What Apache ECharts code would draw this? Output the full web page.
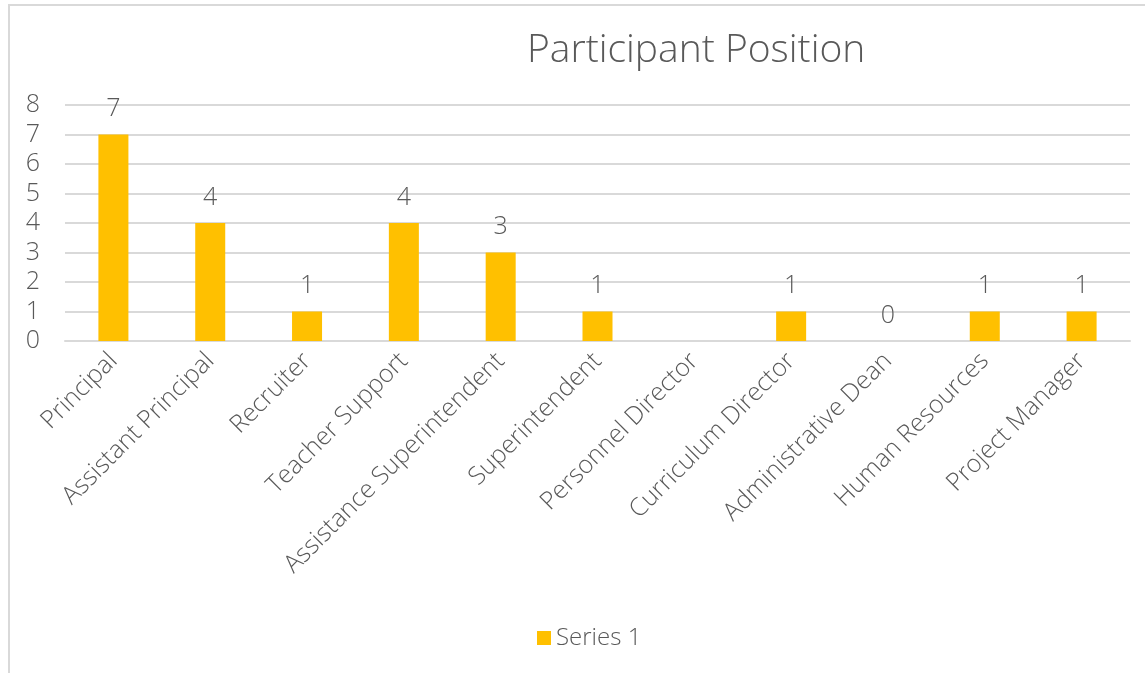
<!DOCTYPE html>
<html>
<head>
<meta charset="utf-8">
<script src="https://cdn.jsdelivr.net/npm/echarts@6/dist/echarts.min.js"></script>
<style>
html,body{margin:0;padding:0;background:#fff;}
#frame{position:absolute;left:8px;top:4px;width:1200px;height:700px;border-left:2px solid #d9d9d9;border-top:2px solid #d9d9d9;}
#chart{position:absolute;left:0;top:0;width:1145px;height:673px;}
</style>
</head>
<body>
<div id="frame"></div>
<div id="chart"></div>
<script>
const categories = ["Principal","Assistant Principal","Recruiter","Teacher Support","Assistance Superintendent","Superintendent","Personnel Director","Curriculum Director","Administrative Dean","Human Resources","Project Manager"];
const series1 = [7,4,1,4,3,1,null,1,0,1,1];
const seriesName = "Series 1";
const titleText = "Participant Position";

const FONT = "'Open Sans', 'Lato', sans-serif";
const TXT = '#595959';
const chart = echarts.init(document.getElementById('chart'), null, {renderer:'canvas'});
chart.setOption({
  backgroundColor: 'transparent',
  animation: false,
  title: {
    text: titleText,
    left: 527,
    top: 31,
    padding: 0,
    textStyle: {fontFamily: FONT, fontWeight: 300, fontSize: 39, color: TXT}
  },
  grid: {left: 65, right: 15, top: 105, bottom: 332, containLabel: false},
  legend: {
    bottom: 23,
    left: 537,
    padding: 0,
    itemWidth: 14,
    itemHeight: 14,
    icon: 'rect',
    itemGap: 6,
    textStyle: {fontFamily: FONT, fontWeight: 300, fontSize: 24, color: TXT},
    data: [seriesName]
  },
  xAxis: {
    type: 'category',
    data: categories,
    axisLine: {show: true, lineStyle: {color: '#d9d9d9', width: 2}},
    axisTick: {show: false},
    axisLabel: {
      rotate: 45,
      interval: 0,
      margin: 16,
      fontFamily: FONT, fontWeight: 300, fontSize: 25, color: TXT
    }
  },
  yAxis: {
    type: 'value',
    min: 0, max: 8, interval: 1,
    axisLine: {show: false},
    axisTick: {show: false},
    splitLine: {lineStyle: {color: '#d9d9d9', width: 2}},
    axisLabel: {margin: 25, fontFamily: FONT, fontWeight: 300, fontSize: 25, color: TXT}
  },
  series: [{
    name: seriesName,
    type: 'bar',
    data: series1,
    barWidth: '31%',
    itemStyle: {color: '#ffc000'},
    label: {
      show: true,
      position: 'top',
      distance: 13,
      fontFamily: FONT, fontWeight: 300, fontSize: 25, color: TXT
    }
  }]
});
</script>
</body>
</html>
